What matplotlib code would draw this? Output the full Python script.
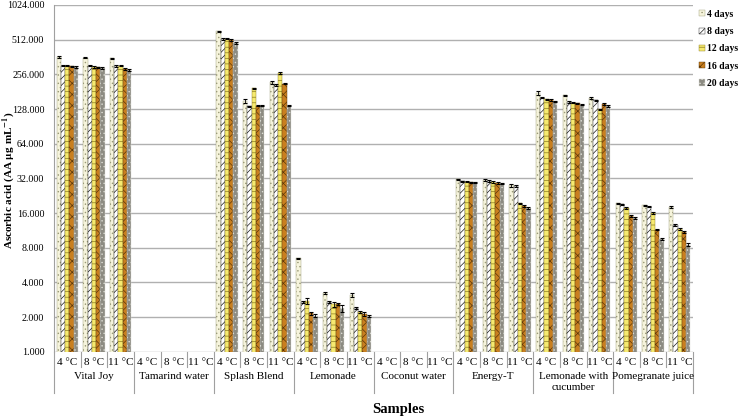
import matplotlib
matplotlib.use("Agg")
import matplotlib.pyplot as plt
from matplotlib.patches import Patch
import matplotlib.transforms as mtransforms
import numpy as np

nan = np.nan

# samples and storage temperatures
samples = ["Vital Joy", "Tamarind water", "Splash Blend", "Lemonade", "Coconut water",
           "Energy-T", "Lemonade with\ncucumber", "Pomegranate juice"]
temps = ["4 \u00b0C", "8 \u00b0C", "11 \u00b0C"]
days = ["4 days", "8 days", "12 days", "16 days", "20 days"]

# ascorbic acid per storage day (one value per sample x temperature)
d4 = [362, 358, 353, nan, nan, nan, 606, 150, 218, 6.46, 3.23, 3.12, nan, nan, nan,
      31.3, 30.9, 27.9, 178, 168, 160, 19.4, 18.6, 18.0]
d8 = [305, 305, 303, nan, nan, nan, 519, 135, 205, 2.68, 2.68, 2.38, nan, nan, nan,
      30.1, 30.3, 27.4, 160, 147, 152, 19.0, 18.2, 12.6]
d12 = [304, 296, 305, nan, nan, nan, 523, 193, 263, 2.75, 2.58, 2.20, nan, nan, nan,
       30.0, 29.8, 19.4, 155, 145, 127, 17.8, 16.0, 11.7]
d16 = [301, 294, 285, nan, nan, nan, 509, 137, 213, 2.15, 2.60, 2.11, nan, nan, nan,
       29.6, 29.2, 18.4, 153, 143, 142, 15.2, 11.5, 10.9]
d20 = [296, 290, 280, nan, nan, nan, 477, 137, 137, 2.05, 2.38, 2.03, nan, nan, nan,
       29.5, 28.9, 17.8, 149, 140, 136, 14.4, 9.45, 8.5]

# error bars
e4 = [5, 5, 5, nan, nan, nan, 9, 7, 5, 0.06, 0.05, 0.12, nan, nan, nan,
      0.4, 0.4, 0.9, 7, 3, 3, 0.3, 0.3, 0.3]
e8 = [4, 4, 4, nan, nan, nan, 7, 2, 4, 0.05, 0.05, 0.04, nan, nan, nan,
      0.4, 0.4, 0.4, 2, 2, 2, 0.3, 0.3, 0.2]
e12 = [4, 4, 4, nan, nan, nan, 7, 3, 4, 0.15, 0.12, 0.04, nan, nan, nan,
       0.4, 0.4, 0.3, 2, 2, 2, 0.3, 0.3, 0.2]
e16 = [4, 4, 4, nan, nan, nan, 7, 2, 3, 0.08, 0.05, 0.08, nan, nan, nan,
       0.4, 0.4, 0.3, 2, 2, 2, 0.3, 0.2, 0.2]
e20 = [4, 4, 4, nan, nan, nan, 7, 2, 2, 0.06, 0.15, 0.04, nan, nan, nan,
       0.4, 0.4, 0.3, 2, 2, 2, 0.3, 0.2, 0.2]

yticks = [1, 2, 4, 8, 16, 32, 64, 128, 256, 512, 1024]

values = [d4, d8, d12, d16, d20]
errors = [e4, e8, e12, e16, e20]

# styles per day: face, hatch colour, hatch
faces = ["#f6f4dc", "#ffffff", "#f6ea70", "#c97f1f", "#8c8b82"]
hatch_cols = ["#9a9a78", "#1a1a1a", "#8a7a20", "#5a3608", "#dcdcd4"]
hatches = ["....", "/////", "---", "xxx", "...."]

plt.rcParams["font.family"] = ["Liberation Serif", "DejaVu Serif"]
plt.rcParams["mathtext.fontset"] = "stix"
plt.rcParams["hatch.linewidth"] = 0.5

fig = plt.figure(figsize=(7.43, 4.16), dpi=100)
ax = fig.add_axes([54/743, 1-351.7/416, (693-54)/743, 346.7/416])

ngroups = len(samples) * len(temps)
x = np.arange(ngroups)
width = 0.16

for i in range(len(days)):
    xs = x + (i - 2) * width
    ax.bar(xs, values[i], width, color=faces[i], edgecolor=hatch_cols[i],
           hatch=hatches[i], linewidth=0.3, zorder=3)
    ax.errorbar(xs, values[i], yerr=errors[i], fmt="none", ecolor="black",
                elinewidth=0.6, capsize=1.6, capthick=0.8, zorder=4)

ax.set_yscale("log", base=2)
ax.set_ylim(1, 1024)
ax.set_yticks(yticks)
ax.set_yticklabels(["%.3f" % v for v in yticks], fontsize=7.2)
ax.minorticks_off()
ax.set_xlim(-0.5, ngroups - 0.5)
ax.set_xticks([])
ax.grid(axis="y", color="#b0b0b0", linewidth=1.0, zorder=0)
for s in ["top", "right", "bottom"]:
    ax.spines[s].set_visible(False)
ax.spines["left"].set_color("#a0a0a0")
ax.tick_params(axis="y", length=0, pad=7)

# category axis below the plot
trans = mtransforms.blended_transform_factory(ax.transData, ax.transAxes)
for k in range(ngroups):
    ax.text(k, -0.03, temps[k % 3], transform=trans, ha="center", va="center", fontsize=8)
for k in range(ngroups + 1):
    low = -0.119 if k % 3 == 0 else -0.045
    ax.plot([k - 0.5, k - 0.5], [0, low], transform=trans, color="#a0a0a0",
            linewidth=0.8, clip_on=False)
for g, name in enumerate(samples):
    ax.text(g * 3 + 1, -0.058, name, transform=trans, ha="center", va="top",
            fontsize=8, linespacing=1.3)

fig.text(398/743, 1-409/416, "Samples", ha="center", va="center",
         fontsize=10.5, fontweight="bold")
fig.text(9/743, 1-180/416, r"Ascorbic acid (AA $\mathbf{\mu}$g mL$^{\mathbf{-1}}$)",
         rotation=90, ha="center", va="center", fontsize=8, fontweight="bold")

handles = [Patch(facecolor=faces[i], edgecolor=hatch_cols[i], hatch=hatches[i],
                 linewidth=0.3) for i in range(len(days))]
leg = fig.legend(handles, days, loc="upper left", bbox_to_anchor=(693/743, 1-4/416),
                 frameon=False, fontsize=7, handlelength=0.6, handleheight=0.6,
                 handletextpad=0.25, labelspacing=0.85, borderaxespad=0.2)
for t in leg.get_texts():
    t.set_fontweight("bold")

fig.savefig("out.png", dpi=100)
